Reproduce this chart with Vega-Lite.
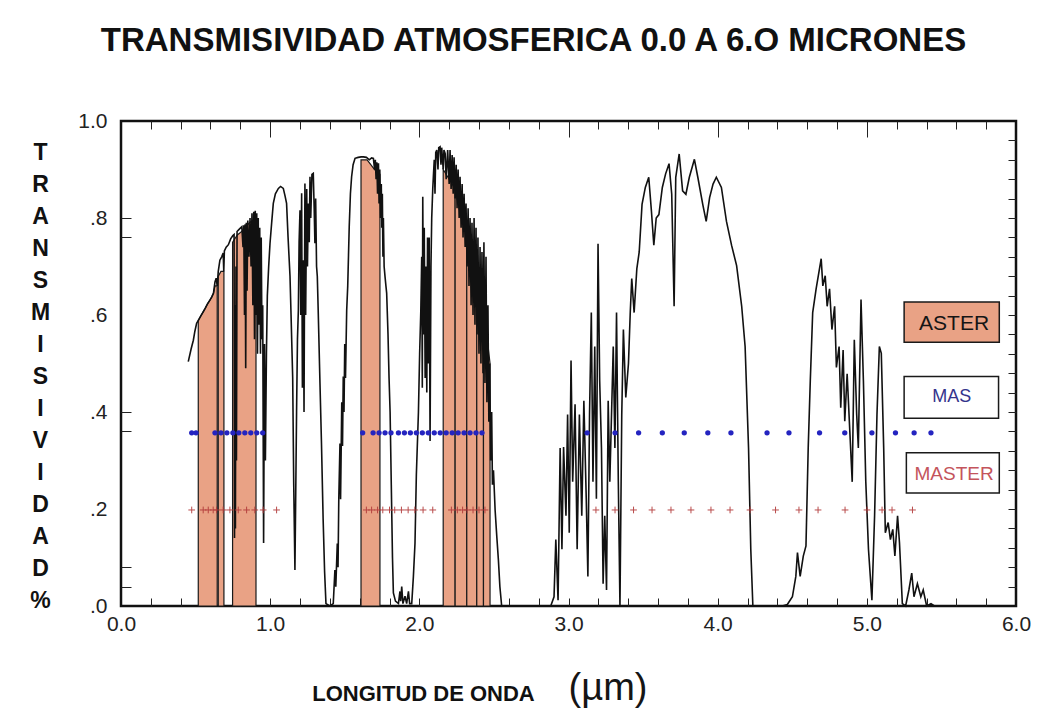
{
  "$schema": "https://vega.github.io/schema/vega-lite/v6.json",
  "width": 895,
  "height": 485,
  "autosize": {"type": "none"},
  "padding": {"left": 121, "top": 121, "right": 24, "bottom": 107},
  "background": "white",
  "title": {
    "text": "TRANSMISIVIDAD ATMOSFERICA 0.0 A 6.O MICRONES",
    "font": "Liberation Sans", "fontSize": 33, "fontWeight": "bold", "color": "#111",
    "anchor": "middle", "dx": -35, "offset": 26, "baseline": "alphabetic"
  },
  "config": {
    "view": {"stroke": "#111", "strokeWidth": 2.5},
    "axis": {"domain": false, "grid": false, "labelFont": "Liberation Sans", "titleFont": "Liberation Sans", "labelColor": "#222", "tickColor": "#222", "titleColor": "#111", "labelFlush": false, "labelOverlap": false, "labelBound": false}
  },
  "datasets": {
    "curve": [
      {"x":0.451,"y":0.504},{"x":0.47,"y":0.53},{"x":0.485,"y":0.548},{"x":0.495,"y":0.566},{"x":0.507,"y":0.583},{"x":0.52,"y":0.59},{"x":0.535,"y":0.598},{"x":0.55,"y":0.606},{"x":0.565,"y":0.614},{"x":0.58,"y":0.623},{"x":0.595,"y":0.63},{"x":0.608,"y":0.637},{"x":0.62,"y":0.645},{"x":0.63,"y":0.668},{"x":0.638,"y":0.676},{"x":0.645,"y":0.66},{"x":0.652,"y":0.69},{"x":0.663,"y":0.713},{"x":0.675,"y":0.72},{"x":0.685,"y":0.728},{"x":0.689,"y":0.69},{"x":0.693,"y":0.732},{"x":0.705,"y":0.74},{"x":0.72,"y":0.745},{"x":0.735,"y":0.757},{"x":0.75,"y":0.764},{"x":0.758,"y":0.766},{"x":0.761,"y":0.14},{"x":0.764,"y":0.62},{"x":0.767,"y":0.16},{"x":0.771,"y":0.7},{"x":0.774,"y":0.3},{"x":0.778,"y":0.772},{"x":0.79,"y":0.776},{"x":0.8,"y":0.779},{"x":0.81,"y":0.782},{"x":0.818,"y":0.74},{"x":0.823,"y":0.785},{"x":0.828,"y":0.6},{"x":0.832,"y":0.787},{"x":0.836,"y":0.49},{"x":0.84,"y":0.79},{"x":0.845,"y":0.65},{"x":0.85,"y":0.795},{"x":0.858,"y":0.72},{"x":0.865,"y":0.8},{"x":0.872,"y":0.7},{"x":0.878,"y":0.81},{"x":0.884,"y":0.62},{"x":0.89,"y":0.813},{"x":0.895,"y":0.55},{"x":0.9,"y":0.815},{"x":0.905,"y":0.6},{"x":0.91,"y":0.81},{"x":0.915,"y":0.52},{"x":0.92,"y":0.8},{"x":0.925,"y":0.58},{"x":0.93,"y":0.78},{"x":0.935,"y":0.52},{"x":0.94,"y":0.76},{"x":0.945,"y":0.55},{"x":0.95,"y":0.62},{"x":0.956,"y":0.13},{"x":0.962,"y":0.54},{"x":0.968,"y":0.3},{"x":0.975,"y":0.52},{"x":0.981,"y":0.64},{"x":0.99,"y":0.7},{"x":0.999,"y":0.748},{"x":1.01,"y":0.79},{"x":1.021,"y":0.83},{"x":1.035,"y":0.85},{"x":1.055,"y":0.861},{"x":1.07,"y":0.865},{"x":1.088,"y":0.861},{"x":1.1,"y":0.845},{"x":1.11,"y":0.83},{"x":1.12,"y":0.76},{"x":1.133,"y":0.68},{"x":1.14,"y":0.6},{"x":1.151,"y":0.47},{"x":1.158,"y":0.25},{"x":1.166,"y":0.074},{"x":1.172,"y":0.25},{"x":1.177,"y":0.4},{"x":1.183,"y":0.55},{"x":1.189,"y":0.61},{"x":1.194,"y":0.75},{"x":1.2,"y":0.816},{"x":1.205,"y":0.6},{"x":1.211,"y":0.851},{"x":1.216,"y":0.45},{"x":1.222,"y":0.713},{"x":1.227,"y":0.4},{"x":1.233,"y":0.871},{"x":1.238,"y":0.6},{"x":1.245,"y":0.86},{"x":1.25,"y":0.7},{"x":1.256,"y":0.83},{"x":1.262,"y":0.75},{"x":1.267,"y":0.885},{"x":1.272,"y":0.8},{"x":1.28,"y":0.89},{"x":1.289,"y":0.892},{"x":1.295,"y":0.82},{"x":1.3,"y":0.748},{"x":1.305,"y":0.84},{"x":1.311,"y":0.7},{"x":1.316,"y":0.68},{"x":1.322,"y":0.61},{"x":1.333,"y":0.47},{"x":1.344,"y":0.335},{"x":1.355,"y":0.18},{"x":1.365,"y":0.07},{"x":1.374,"y":0.005},{"x":1.4,"y":0},{"x":1.423,"y":0.005},{"x":1.434,"y":0.074},{"x":1.44,"y":0.04},{"x":1.45,"y":0.129},{"x":1.455,"y":0.08},{"x":1.46,"y":0.22},{"x":1.468,"y":0.335},{"x":1.472,"y":0.22},{"x":1.48,"y":0.42},{"x":1.485,"y":0.33},{"x":1.49,"y":0.473},{"x":1.495,"y":0.4},{"x":1.5,"y":0.54},{"x":1.505,"y":0.47},{"x":1.513,"y":0.61},{"x":1.52,"y":0.66},{"x":1.53,"y":0.782},{"x":1.538,"y":0.85},{"x":1.546,"y":0.885},{"x":1.556,"y":0.91},{"x":1.569,"y":0.923},{"x":1.59,"y":0.925},{"x":1.61,"y":0.926},{"x":1.625,"y":0.926},{"x":1.645,"y":0.925},{"x":1.665,"y":0.92},{"x":1.68,"y":0.924},{"x":1.692,"y":0.923},{"x":1.7,"y":0.9},{"x":1.705,"y":0.92},{"x":1.71,"y":0.88},{"x":1.715,"y":0.915},{"x":1.72,"y":0.85},{"x":1.726,"y":0.913},{"x":1.73,"y":0.83},{"x":1.735,"y":0.9},{"x":1.74,"y":0.8},{"x":1.745,"y":0.87},{"x":1.748,"y":0.78},{"x":1.752,"y":0.85},{"x":1.756,"y":0.72},{"x":1.759,"y":0.8},{"x":1.764,"y":0.7},{"x":1.77,"y":0.679},{"x":1.776,"y":0.66},{"x":1.781,"y":0.645},{"x":1.79,"y":0.56},{"x":1.797,"y":0.47},{"x":1.804,"y":0.4},{"x":1.812,"y":0.25},{"x":1.82,"y":0.1},{"x":1.826,"y":0.027},{"x":1.84,"y":0.01},{"x":1.86,"y":0.005},{"x":1.87,"y":0.03},{"x":1.875,"y":0.01},{"x":1.882,"y":0.04},{"x":1.89,"y":0.005},{"x":1.904,"y":0.02},{"x":1.915,"y":0.005},{"x":1.927,"y":0.03},{"x":1.935,"y":0.005},{"x":1.949,"y":0.005},{"x":1.96,"y":0.06},{"x":1.971,"y":0.13},{"x":1.98,"y":0.27},{"x":1.994,"y":0.4},{"x":2.002,"y":0.52},{"x":2.01,"y":0.61},{"x":2.016,"y":0.72},{"x":2.02,"y":0.45},{"x":2.023,"y":0.844},{"x":2.028,"y":0.56},{"x":2.033,"y":0.78},{"x":2.039,"y":0.47},{"x":2.045,"y":0.7},{"x":2.05,"y":0.44},{"x":2.055,"y":0.76},{"x":2.061,"y":0.5},{"x":2.066,"y":0.76},{"x":2.072,"y":0.34},{"x":2.078,"y":0.7},{"x":2.083,"y":0.8},{"x":2.09,"y":0.86},{"x":2.094,"y":0.885},{"x":2.1,"y":0.92},{"x":2.105,"y":0.85},{"x":2.11,"y":0.935},{"x":2.117,"y":0.94},{"x":2.125,"y":0.9},{"x":2.13,"y":0.945},{"x":2.139,"y":0.947},{"x":2.145,"y":0.91},{"x":2.15,"y":0.945},{"x":2.16,"y":0.9},{"x":2.165,"y":0.94},{"x":2.173,"y":0.933},{"x":2.18,"y":0.88},{"x":2.19,"y":0.94},{"x":2.2,"y":0.87},{"x":2.206,"y":0.94},{"x":2.213,"y":0.86},{"x":2.22,"y":0.93},{"x":2.227,"y":0.85},{"x":2.233,"y":0.925},{"x":2.24,"y":0.84},{"x":2.247,"y":0.91},{"x":2.253,"y":0.82},{"x":2.26,"y":0.9},{"x":2.267,"y":0.8},{"x":2.273,"y":0.885},{"x":2.28,"y":0.78},{"x":2.287,"y":0.87},{"x":2.293,"y":0.76},{"x":2.3,"y":0.85},{"x":2.307,"y":0.74},{"x":2.313,"y":0.83},{"x":2.32,"y":0.7},{"x":2.327,"y":0.82},{"x":2.333,"y":0.66},{"x":2.34,"y":0.8},{"x":2.347,"y":0.62},{"x":2.353,"y":0.79},{"x":2.36,"y":0.6},{"x":2.367,"y":0.8},{"x":2.373,"y":0.58},{"x":2.38,"y":0.78},{"x":2.387,"y":0.56},{"x":2.393,"y":0.76},{"x":2.4,"y":0.52},{"x":2.407,"y":0.74},{"x":2.413,"y":0.5},{"x":2.42,"y":0.73},{"x":2.427,"y":0.48},{"x":2.433,"y":0.75},{"x":2.44,"y":0.46},{"x":2.447,"y":0.72},{"x":2.453,"y":0.42},{"x":2.46,"y":0.62},{"x":2.466,"y":0.38},{"x":2.472,"y":0.5},{"x":2.478,"y":0.3},{"x":2.485,"y":0.4},{"x":2.49,"y":0.25},{"x":2.497,"y":0.28},{"x":2.508,"y":0.198},{"x":2.52,"y":0.14},{"x":2.53,"y":0.095},{"x":2.54,"y":0.04},{"x":2.552,"y":0},{"x":2.881,"y":0},
      {"x":2.903,"y":0.019},{"x":2.915,"y":0.137},{"x":2.93,"y":0.012},{"x":2.944,"y":0.326},{"x":2.956,"y":0.117},{"x":2.967,"y":0.328},{"x":2.983,"y":0.186},{"x":2.994,"y":0.395},{"x":3.005,"y":0.151},{"x":3.017,"y":0.506},{"x":3.028,"y":0.256},{"x":3.044,"y":0.416},{"x":3.058,"y":0.117},{"x":3.073,"y":0.395},{"x":3.089,"y":0.186},{"x":3.103,"y":0.423},{"x":3.119,"y":0.221},{"x":3.13,"y":0.061},{"x":3.141,"y":0.395},{"x":3.153,"y":0.605},{"x":3.164,"y":0.256},{"x":3.176,"y":0.535},{"x":3.187,"y":0.221},{"x":3.198,"y":0.747},{"x":3.209,"y":0.465},{"x":3.221,"y":0.326},{"x":3.232,"y":0.046},{"x":3.243,"y":0.186},{"x":3.255,"y":0.033},{"x":3.266,"y":0.423},{"x":3.277,"y":0.256},{"x":3.3,"y":0.535},{"x":3.311,"y":0.326},{"x":3.322,"y":0.605},{"x":3.334,"y":0.256},{"x":3.345,"y":0.0},{"x":3.357,"y":0.395},{"x":3.368,"y":0.57},{"x":3.384,"y":0.43},{"x":3.402,"y":0.5},{"x":3.414,"y":0.605},{"x":3.424,"y":0.675},{"x":3.44,"y":0.605},{"x":3.458,"y":0.695},{"x":3.474,"y":0.73},{"x":3.493,"y":0.828},{"x":3.515,"y":0.863},{"x":3.538,"y":0.884},{"x":3.556,"y":0.814},{"x":3.572,"y":0.744},{"x":3.588,"y":0.8},{"x":3.606,"y":0.807},{"x":3.629,"y":0.863},{"x":3.651,"y":0.891},{"x":3.674,"y":0.912},{"x":3.692,"y":0.849},{"x":3.708,"y":0.618},{"x":3.719,"y":0.884},{"x":3.742,"y":0.932},{"x":3.765,"y":0.856},{"x":3.787,"y":0.849},{"x":3.81,"y":0.884},{"x":3.844,"y":0.921},{"x":3.867,"y":0.884},{"x":3.9,"y":0.828},{"x":3.923,"y":0.793},{"x":3.946,"y":0.842},{"x":3.969,"y":0.87},{"x":3.991,"y":0.884},{"x":4.025,"y":0.863},{"x":4.059,"y":0.793},{"x":4.093,"y":0.744},{"x":4.127,"y":0.702},{"x":4.161,"y":0.618},{"x":4.184,"y":0.535},{"x":4.207,"y":0.326},{"x":4.222,"y":0.117},{"x":4.236,"y":0},{"x":4.433,"y":0},{"x":4.467,"y":0.003},{"x":4.501,"y":0.019},{"x":4.524,"y":0.061},{"x":4.535,"y":0.11},{"x":4.553,"y":0.061},{"x":4.574,"y":0.103},{"x":4.592,"y":0.124},{"x":4.607,"y":0.326},{"x":4.621,"y":0.465},{"x":4.637,"y":0.605},{"x":4.66,"y":0.654},{"x":4.694,"y":0.716},{"x":4.705,"y":0.66},{"x":4.721,"y":0.681},{"x":4.734,"y":0.618},{"x":4.75,"y":0.654},{"x":4.766,"y":0.57},{"x":4.784,"y":0.618},{"x":4.796,"y":0.492},{"x":4.814,"y":0.535},{"x":4.825,"y":0.409},{"x":4.841,"y":0.528},{"x":4.852,"y":0.381},{"x":4.868,"y":0.479},{"x":4.886,"y":0.36},{"x":4.902,"y":0.256},{"x":4.916,"y":0.549},{"x":4.932,"y":0.395},{"x":4.943,"y":0.326},{"x":4.961,"y":0.632},{"x":4.977,"y":0.465},{"x":4.993,"y":0.256},{"x":5.011,"y":0.117},{"x":5.034,"y":0.012},{"x":5.052,"y":0.186},{"x":5.068,"y":0.395},{"x":5.084,"y":0.535},{"x":5.097,"y":0.521},{"x":5.113,"y":0.326},{"x":5.124,"y":0.151},{"x":5.143,"y":0.172},{"x":5.158,"y":0.137},{"x":5.174,"y":0.158},{"x":5.188,"y":0.103},{"x":5.206,"y":0.186},{"x":5.219,"y":0.13},{"x":5.238,"y":0.005},{"x":5.26,"y":0},{"x":5.282,"y":0.033},{"x":5.301,"y":0.068},{"x":5.316,"y":0.019},{"x":5.339,"y":0.046},{"x":5.362,"y":0.019},{"x":5.378,"y":0.033},{"x":5.401,"y":0},{"x":5.43,"y":0.005},{"x":5.453,"y":0}
    ],
    "aster": [
      {"band":"1","x":0.518,"y":0.588},{"band":"1","x":0.535,"y":0.598},{"band":"1","x":0.55,"y":0.606},{"band":"1","x":0.565,"y":0.614},{"band":"1","x":0.58,"y":0.623},{"band":"1","x":0.595,"y":0.63},{"band":"1","x":0.608,"y":0.637},{"band":"1","x":0.62,"y":0.645},{"band":"1","x":0.63,"y":0.66},{"band":"1","x":0.645,"y":0.66},
      {"band":"2","x":0.652,"y":0.68},{"band":"2","x":0.67,"y":0.69},{"band":"2","x":0.69,"y":0.69},
      {"band":"3","x":0.748,"y":0.75},{"band":"3","x":0.78,"y":0.765},{"band":"3","x":0.82,"y":0.775},{"band":"3","x":0.86,"y":0.79},{"band":"3","x":0.905,"y":0.8},
      {"band":"4","x":1.609,"y":0.92},{"band":"4","x":1.65,"y":0.92},{"band":"4","x":1.7,"y":0.9},{"band":"4","x":1.736,"y":0.89},
      {"band":"5","x":2.16,"y":0.9},{"band":"5","x":2.2,"y":0.88},{"band":"5","x":2.24,"y":0.86},
      {"band":"6","x":2.24,"y":0.86},{"band":"6","x":2.28,"y":0.8},{"band":"6","x":2.318,"y":0.78},
      {"band":"7","x":2.318,"y":0.78},{"band":"7","x":2.35,"y":0.74},{"band":"7","x":2.385,"y":0.7},
      {"band":"8","x":2.385,"y":0.7},{"band":"8","x":2.43,"y":0.62},
      {"band":"9","x":2.43,"y":0.62},{"band":"9","x":2.474,"y":0.5}
    ],
    "mas": [
      {"x":0.474,"y":0.357},{"x":0.503,"y":0.357},{"x":0.63,"y":0.357},{"x":0.67,"y":0.357},{"x":0.71,"y":0.357},{"x":0.75,"y":0.357},{"x":0.79,"y":0.357},{"x":0.83,"y":0.357},{"x":0.87,"y":0.357},{"x":0.91,"y":0.357},{"x":0.95,"y":0.357},
      {"x":1.62,"y":0.357},{"x":1.69,"y":0.357},{"x":1.73,"y":0.357},{"x":1.77,"y":0.357},{"x":1.81,"y":0.357},{"x":1.86,"y":0.357},{"x":1.9,"y":0.357},{"x":1.94,"y":0.357},{"x":1.98,"y":0.357},{"x":2.02,"y":0.357},{"x":2.06,"y":0.357},{"x":2.1,"y":0.357},{"x":2.14,"y":0.357},{"x":2.18,"y":0.357},{"x":2.22,"y":0.357},{"x":2.26,"y":0.357},{"x":2.3,"y":0.357},{"x":2.34,"y":0.357},{"x":2.38,"y":0.357},{"x":2.42,"y":0.357},
      {"x":3.125,"y":0.357},{"x":3.312,"y":0.357},{"x":3.47,"y":0.357},{"x":3.629,"y":0.357},{"x":3.776,"y":0.357},{"x":3.934,"y":0.357},{"x":4.089,"y":0.357},{"x":4.331,"y":0.357},{"x":4.478,"y":0.357},{"x":4.683,"y":0.357},{"x":4.852,"y":0.357},{"x":5.034,"y":0.357},{"x":5.192,"y":0.357},{"x":5.317,"y":0.357},{"x":5.43,"y":0.357}
    ],
    "master": [
      {"x":0.474,"y":0.198},{"x":0.551,"y":0.198},{"x":0.585,"y":0.198},{"x":0.618,"y":0.198},{"x":0.641,"y":0.198},{"x":0.685,"y":0.198},{"x":0.73,"y":0.198},{"x":0.786,"y":0.198},{"x":0.842,"y":0.198},{"x":0.897,"y":0.198},{"x":0.953,"y":0.198},{"x":1.043,"y":0.198},
      {"x":1.645,"y":0.198},{"x":1.68,"y":0.198},{"x":1.72,"y":0.198},{"x":1.755,"y":0.198},{"x":1.8,"y":0.198},{"x":1.835,"y":0.198},{"x":1.88,"y":0.198},{"x":1.925,"y":0.198},{"x":1.97,"y":0.198},{"x":2.025,"y":0.198},{"x":2.09,"y":0.198},{"x":2.215,"y":0.198},{"x":2.255,"y":0.198},{"x":2.29,"y":0.198},{"x":2.32,"y":0.198},{"x":2.36,"y":0.198},{"x":2.4,"y":0.198},{"x":2.44,"y":0.198},
      {"x":3.184,"y":0.198},{"x":3.312,"y":0.198},{"x":3.436,"y":0.198},{"x":3.56,"y":0.198},{"x":3.687,"y":0.198},{"x":3.821,"y":0.198},{"x":3.955,"y":0.198},{"x":4.083,"y":0.198},{"x":4.217,"y":0.198},{"x":4.388,"y":0.198},{"x":4.545,"y":0.198},{"x":4.673,"y":0.198},{"x":4.854,"y":0.198},{"x":5.001,"y":0.198},{"x":5.102,"y":0.198},{"x":5.169,"y":0.198},{"x":5.306,"y":0.198}
    ],
    "legend": [
      {"label":"ASTER","x":5.25,"x2":5.888,"y":0.544,"y2":0.627,"xm":5.585,"ym":0.582},
      {"label":"MAS","x":5.25,"x2":5.883,"y":0.387,"y2":0.473,"xm":5.569,"ym":0.43},
      {"label":"MASTER","x":5.265,"x2":5.888,"y":0.233,"y2":0.316,"xm":5.585,"ym":0.272}
    ],
    "unit": [{"label":"(µm)","x":3.265,"y":-0.172}]
  },
  "layer": [
    {
      "data": {"name": "aster"},
      "mark": {"type": "area", "fill": "#E9A285", "stroke": "#1a1a1a", "strokeWidth": 1.2, "opacity": 1},
      "encoding": {
        "x": {"field": "x", "type": "quantitative", "scale": {"domain": [0, 6], "nice": false, "zero": false},
          "axis": {"orient": "bottom", "values": [0,1,2,3,4,5,6], "format": ".1f", "ticks": false, "labelFontSize": 21, "labelPadding": 7,
            "title": "LONGITUD DE ONDA", "titleFontSize": 22, "titleFontWeight": "bold", "titleX": 302, "titleY": 94, "titleAlign": "center", "titleBaseline": "alphabetic", "titleAnchor": null}},
        "y": {"field": "y", "type": "quantitative", "stack": null, "scale": {"domain": [0, 1], "nice": false},
          "axis": {"orient": "left", "values": [0,0.2,0.4,0.6,0.8,1], "labelExpr": "datum.value >= 1 ? '1.0' : slice(format(datum.value, '.1f'), 1)", "ticks": false, "labelFontSize": 21, "labelPadding": 14,
            "title": ["T","R","A","N","S","M","I","S","I","V","I","D","A","D","%"], "titleAngle": 0, "titleFontSize": 23, "titleFontWeight": "bold", "titleLineHeight": 32, "titleX": -81, "titleY": 31, "titleAlign": "center", "titleBaseline": "middle"}},
        "detail": {"field": "band"}
      }
    },
    {
      "data": {"name": "curve"},
      "mark": {"type": "line", "color": "#111", "strokeWidth": 1.6},
      "encoding": {
        "x": {"field": "x", "type": "quantitative", "scale": {"domain": [0, 6], "nice": false, "zero": false},
          "axis": {"orient": "bottom", "values": [0.2,0.4,0.6,0.8,1,1.2,1.4,1.6,1.8,2,2.2,2.4,2.6,2.8,3,3.2,3.4,3.6,3.8,4,4.2,4.4,4.6,4.8,5,5.2,5.4,5.6,5.8], "labels": false, "ticks": true, "tickSize": -8, "title": null}},
        "y": {"field": "y", "type": "quantitative", "scale": {"domain": [0, 1], "nice": false},
          "axis": {"orient": "left", "values": [0.04,0.08,0.36,0.4,0.76,0.8], "labels": false, "ticks": true, "tickSize": -10, "title": null}}
      }
    },
    {
      "data": {"name": "mas"},
      "mark": {"type": "point", "shape": "circle", "filled": true, "color": "#2424c0", "size": 28, "opacity": 1},
      "encoding": {
        "x": {"field": "x", "type": "quantitative", "scale": {"domain": [0, 6], "nice": false, "zero": false},
          "axis": {"orient": "top", "values": [0.2,0.4,0.6,0.8,1.2,1.4,1.6,1.8,2.2,2.4,2.6,2.8,3.2,3.4,3.6,3.8,4.2,4.4,4.6,4.8,5.2,5.4,5.6,5.8], "labels": false, "ticks": true, "tickSize": -8, "title": null}},
        "y": {"field": "y", "type": "quantitative", "scale": {"domain": [0, 1], "nice": false},
          "axis": {"orient": "right", "values": [0.04,0.08,0.12,0.16,0.2,0.24,0.28,0.32,0.36,0.4,0.44,0.48,0.52,0.56,0.6,0.64,0.68,0.72,0.76,0.8,0.84,0.88,0.92,0.96], "labels": false, "ticks": true, "tickSize": -8, "title": null}}
      }
    },
    {
      "data": {"name": "master"},
      "mark": {"type": "point", "shape": "M-1,0L1,0M0,-1L0,1", "filled": false, "stroke": "#b23a3a", "strokeWidth": 1, "size": 45, "opacity": 0.9},
      "encoding": {
        "x": {"field": "x", "type": "quantitative", "scale": {"domain": [0, 6], "nice": false, "zero": false},
          "axis": {"orient": "top", "values": [1,2,3,4,5], "labels": false, "ticks": true, "tickSize": -16, "title": null}},
        "y": {"field": "y", "type": "quantitative", "scale": {"domain": [0, 1], "nice": false}, "axis": null}
      }
    },
    {
      "data": {"name": "legend"},
      "mark": {"type": "rect", "stroke": "#1a1a1a", "strokeWidth": 1.5},
      "encoding": {
        "x": {"field": "x", "type": "quantitative", "scale": {"domain": [0, 6], "nice": false, "zero": false}, "axis": null},
        "x2": {"field": "x2"},
        "y": {"field": "y", "type": "quantitative", "scale": {"domain": [0, 1], "nice": false}, "axis": null},
        "y2": {"field": "y2"},
        "fill": {"field": "label", "type": "nominal", "scale": {"domain": ["ASTER","MAS","MASTER"], "range": ["#E9A285","#ffffff","#ffffff"]}, "legend": null}
      }
    },
    {
      "data": {"name": "legend"},
      "transform": [{"filter": "datum.label === 'ASTER'"}],
      "mark": {"type": "text", "font": "Liberation Sans", "fontSize": 21, "color": "#151515", "align": "center", "baseline": "middle"},
      "encoding": {
        "x": {"field": "xm", "type": "quantitative", "scale": {"domain": [0, 6], "nice": false, "zero": false}, "axis": null},
        "y": {"field": "ym", "type": "quantitative", "scale": {"domain": [0, 1], "nice": false}, "axis": null},
        "text": {"field": "label"}
      }
    },
    {
      "data": {"name": "legend"},
      "transform": [{"filter": "datum.label === 'MAS'"}],
      "mark": {"type": "text", "font": "Liberation Sans", "fontSize": 18, "color": "#34348c", "align": "center", "baseline": "middle"},
      "encoding": {
        "x": {"field": "xm", "type": "quantitative", "scale": {"domain": [0, 6], "nice": false, "zero": false}, "axis": null},
        "y": {"field": "ym", "type": "quantitative", "scale": {"domain": [0, 1], "nice": false}, "axis": null},
        "text": {"field": "label"}
      }
    },
    {
      "data": {"name": "legend"},
      "transform": [{"filter": "datum.label === 'MASTER'"}],
      "mark": {"type": "text", "font": "Liberation Sans", "fontSize": 19, "color": "#c4545c", "align": "center", "baseline": "middle"},
      "encoding": {
        "x": {"field": "xm", "type": "quantitative", "scale": {"domain": [0, 6], "nice": false, "zero": false}, "axis": null},
        "y": {"field": "ym", "type": "quantitative", "scale": {"domain": [0, 1], "nice": false}, "axis": null},
        "text": {"field": "label"}
      }
    },
    {
      "data": {"name": "unit"},
      "mark": {"type": "text", "font": "Liberation Sans", "fontSize": 38, "color": "#151515", "align": "center", "baseline": "middle"},
      "encoding": {
        "x": {"field": "x", "type": "quantitative", "scale": {"domain": [0, 6], "nice": false, "zero": false}, "axis": null},
        "y": {"field": "y", "type": "quantitative", "scale": {"domain": [0, 1], "nice": false}, "axis": null},
        "text": {"field": "label"}
      }
    }
  ],
  "resolve": {"axis": {"x": "independent", "y": "independent"}}
}
